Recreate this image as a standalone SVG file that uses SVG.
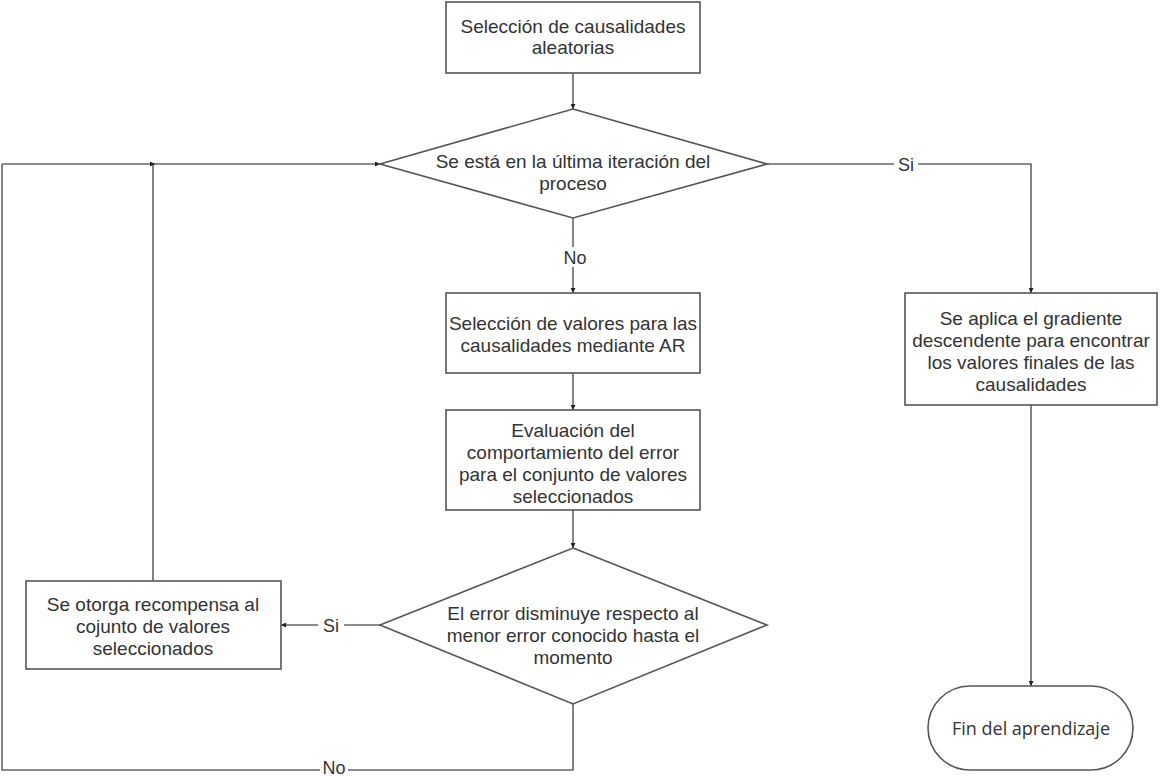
<svg xmlns="http://www.w3.org/2000/svg" width="1161" height="777" viewBox="0 0 1161 777">
<style>
.n{fill:#fff;stroke:#555;stroke-width:1.6}
.t{font-family:"Liberation Sans",Arial,sans-serif;font-size:19px;fill:#333;text-anchor:middle}
.f{font-family:"Open Sans","Noto Sans",sans-serif;font-size:18px;fill:#333;text-anchor:middle}
.c{fill:none;stroke:#666;stroke-width:1.6}
.l{font-family:"Liberation Sans",Arial,sans-serif;font-size:18px;fill:#333;text-anchor:middle}
</style>
<defs>
<marker id="a" viewBox="0 0 6 6" refX="6" refY="3" markerWidth="5" markerHeight="5" markerUnits="userSpaceOnUse" orient="auto">
<path d="M0,0 L6,3 L0,6 z" fill="#222"/>
</marker>
</defs>
<rect width="1161" height="777" fill="#fff"/>
<g id="connectors">
<path class="c" d="M573,73 V109" marker-end="url(#a)"/>
<path class="c" d="M573,218 V293" marker-end="url(#a)"/>
<path class="c" d="M573,373 V410" marker-end="url(#a)"/>
<path class="c" d="M573,510 V548" marker-end="url(#a)"/>
<path class="c" d="M767,164 H1031 V293" marker-end="url(#a)"/>
<path class="c" d="M1031,405 V686" marker-end="url(#a)"/>
<path class="c" d="M380,625 H281" marker-end="url(#a)"/>
<path class="c" d="M153,581 V164"/>
<path class="c" d="M2,164 H380" marker-end="url(#a)"/>
<path class="c" d="M153,164 H155" marker-end="url(#a)"/>
<path class="c" d="M573,704 V770 H2 V164"/>
<rect x="894" y="154" width="24" height="20" fill="#fff"/>
<text class="l" x="906" y="171">Si</text>
<rect x="561" y="247" width="28" height="20" fill="#fff"/>
<text class="l" x="575" y="264">No</text>
<rect x="318" y="615" width="26" height="20" fill="#fff"/>
<text class="l" x="331" y="632">Si</text>
<rect x="320" y="761" width="28" height="16" fill="#fff"/>
<text class="l" x="334" y="774" font-size="17">No</text>
</g>
<g id="n1">
<rect class="n" x="446" y="2" width="254" height="71"/>
<text class="t" x="573" y="33">Selección de causalidades</text>
<text class="t" x="573" y="54">aleatorias</text>
</g>
<g id="n2">
<polygon class="n" points="573,109 767,164 573,218 380,164"/>
<text class="t" x="573" y="168">Se está en la última iteración del</text>
<text class="t" x="573" y="190">proceso</text>
</g>
<g id="n3">
<rect class="n" x="446" y="293" width="254" height="80"/>
<text class="t" x="573" y="330">Selección de valores para las</text>
<text class="t" x="573" y="352">causalidades mediante AR</text>
</g>
<g id="n4">
<rect class="n" x="446" y="410" width="254" height="100"/>
<text class="t" x="573" y="437">Evaluación del</text>
<text class="t" x="573" y="459">comportamiento del error</text>
<text class="t" x="573" y="481">para el conjunto de valores</text>
<text class="t" x="573" y="503">seleccionados</text>
</g>
<g id="n5">
<polygon class="n" points="573,548 767,625 573,704 380,625"/>
<text class="t" x="573" y="620">El error disminuye respecto al</text>
<text class="t" x="573" y="642">menor error conocido hasta el</text>
<text class="t" x="573" y="664">momento</text>
</g>
<g id="n6">
<rect class="n" x="26" y="581" width="255" height="88"/>
<text class="t" x="153" y="611">Se otorga recompensa al</text>
<text class="t" x="153" y="633">cojunto de valores</text>
<text class="t" x="153" y="655">seleccionados</text>
</g>
<g id="n7">
<rect class="n" x="905" y="293" width="252" height="112"/>
<text class="t" x="1031" y="325">Se aplica el gradiente</text>
<text class="t" x="1031" y="347">descendente para encontrar</text>
<text class="t" x="1031" y="369">los valores finales de las</text>
<text class="t" x="1031" y="391">causalidades</text>
</g>
<g id="n8">
<rect class="n" x="928" y="686" width="205" height="84" rx="42" ry="42"/>
<text class="f" x="1031" y="735">Fin del aprendizaje</text>
</g>
</svg>
